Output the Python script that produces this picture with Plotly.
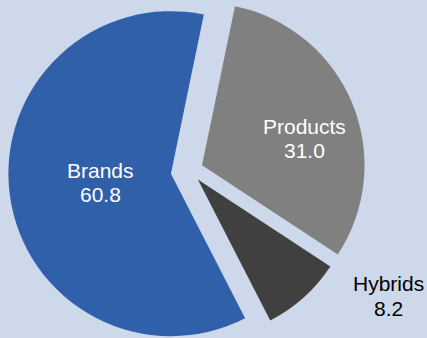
import math
import plotly.graph_objects as go

# Share of items by type (%)
labels = ["Products", "Hybrids", "Brands"]
values = [31.0, 8.2, 60.8]

# Styling
slice_colors = ["#808080", "#404040", "#3060AA"]
text_colors = ["#FFFFFF", "#000000", "#FFFFFF"]
# label anchor (px from top-left): centre x, centre y of the name line, of the value line
label_xy = [(304, 126, 151), (388, 283, 308), (100, 170, 195)]
BG = "#CDD8EA"
FONT = "Liberation Sans, Arial, sans-serif"

W, H = 427, 338
R = 162.5            # pie radius, px
CENTER = (187.0, 171.5)
PULL = 0.10          # explode distance as a fraction of the radius
START = 11.7         # first slice starts this many degrees clockwise from 12 o'clock

total = sum(values)
fig = go.Figure()
acc = 0.0
for i, (lab, val) in enumerate(zip(labels, values)):
    mid = math.radians(START + 360.0 * (acc + val / 2) / total)
    acc += val
    # each slice is drawn by its own pie, centred on the exploded position
    cx = CENTER[0] + PULL * R * math.sin(mid)
    cy = CENTER[1] - PULL * R * math.cos(mid)
    r = R
    room = min(cx, W - cx, cy, H - cy)
    if room < r:
        r = (R + room) / 2
        cy = min(cy, H - r)
        cx = max(min(cx, W - r), r)
    colors = ["rgba(0,0,0,0)"] * len(values)
    colors[i] = slice_colors[i]
    fig.add_trace(go.Pie(
        labels=labels,
        values=values,
        sort=False,
        direction="clockwise",
        rotation=START,
        marker=dict(colors=colors, line=dict(width=0)),
        textinfo="none",
        domain=dict(x=[(cx - r) / W, (cx + r) / W],
                    y=[1 - (cy + r) / H, 1 - (cy - r) / H]),
        showlegend=False,
        hoverinfo="label+value",
    ))

    # slice label: category name above its value
    lx, ly1, ly2 = label_xy[i]
    for txt, ly in ((lab, ly1), (f"{val:.1f}", ly2)):
        fig.add_annotation(
            x=lx / W, y=1 - ly / H, xref="paper", yref="paper",
            text=txt, showarrow=False, xanchor="center", yanchor="middle",
            font=dict(family=FONT, size=21, color=text_colors[i]),
        )

fig.update_layout(
    width=W, height=H,
    margin=dict(l=0, r=0, t=0, b=0),
    paper_bgcolor=BG,
    plot_bgcolor=BG,
    font=dict(family=FONT, size=21),
)

fig.write_html("out.html")
